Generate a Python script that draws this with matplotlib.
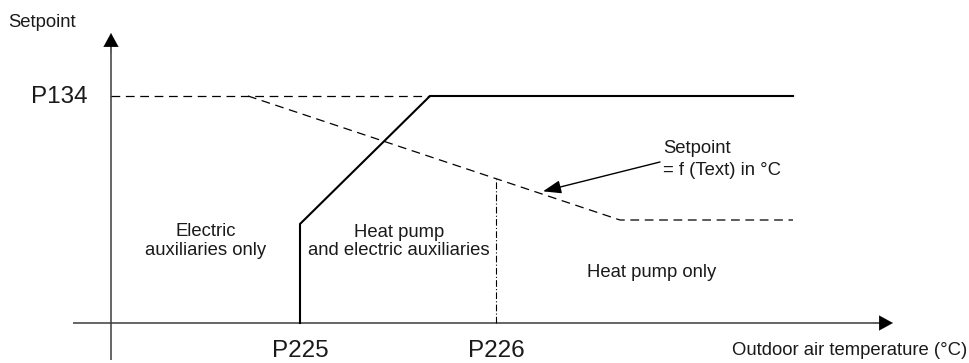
import matplotlib
matplotlib.use("Agg")
import matplotlib.pyplot as plt
import numpy as np

plt.rcParams['font.family'] = ['Liberation Sans', 'DejaVu Sans']

# schematic units: origin where the two axes cross
p134 = 227          # max setpoint level
p225 = 189          # heat pump cut-off temperature
p226 = 385          # changeover temperature

# setpoint law = f(Text), dashed
law_x = [137, 509, 682]
law_y = [227, 103, 103]

# heat pump operating limit, solid
limit_x = [p225, p225, 319, 682]
limit_y = [0, 99, p134, p134]

tick_labels = ["P225", "P226"]
tick_pos = [p225, p226]

fig = plt.figure(figsize=(9.7, 3.63), dpi=100)
ax = fig.add_axes([0, 0, 1, 1])
ax.set_xlim(-111, 859)
ax.set_ylim(-40, 323)
ax.axis("off")

axis_col = "#3c3c3c"
txt_col = "#1a1a1a"
small = 13.3
big = 17.5

# axes with arrow heads
ax.plot([0, 0], [-37, 280], color=axis_col, lw=1.1, solid_capstyle="butt")
ax.plot([-38, 772], [0, 0], color=axis_col, lw=1.1, solid_capstyle="butt")
head = dict(arrowstyle="-|>,head_length=0.55,head_width=0.3", color="black",
            mutation_scale=18, shrinkA=0, shrinkB=0, lw=0.1)
ax.annotate("", xy=(0, 290), xytext=(0, 270), arrowprops=head)
ax.annotate("", xy=(782, 0), xytext=(762, 0), arrowprops=head)

# P134 reference level up to where the limit line reaches it
ax.plot([0, limit_x[2]], [p134, p134], color="black", lw=0.9, ls=(0, (7, 4.5)))
# setpoint law
ax.plot(law_x, law_y, color="black", lw=0.9, ls=(0, (7, 4.5)))
# heat pump limit
ax.plot(limit_x, limit_y, color="black", lw=1.5, solid_joinstyle="miter")

# P226 marker down to the axis
y226 = np.interp(p226, law_x, law_y)
ax.plot([p226, p226], [0, y226], color="black", lw=0.8, ls=(0, (6, 2, 1, 2)))

# annotation arrow to the setpoint law
ax_tip = 432
ax.annotate("", xy=(ax_tip, np.interp(ax_tip, law_x, law_y) + 3), xytext=(549, 161),
            arrowprops=dict(arrowstyle="-|>,head_length=1.1,head_width=0.4",
                            mutation_scale=10, color="black", lw=1.0,
                            shrinkA=0, shrinkB=0))
ax.text(552, 170, "Setpoint", fontsize=small, color=txt_col, va="baseline")
ax.text(552, 148, "= f (Text) in °C", fontsize=small, color=txt_col, va="baseline")

# labels
ax.text(-103, 296, "Setpoint", fontsize=small, color=txt_col, va="baseline")
ax.text(-23, 220, "P134", fontsize=big, color=txt_col, ha="right", va="baseline")
for pos, lab in zip(tick_pos, tick_labels):
    ax.text(pos, -34, lab, fontsize=big, color=txt_col, ha="center", va="baseline")
ax.text(621, -32, "Outdoor air temperature (°C)", fontsize=small, color=txt_col,
        va="baseline")

ax.text(95, 87, "Electric", fontsize=small, color=txt_col, ha="center", va="baseline")
ax.text(95, 68, "auxiliaries only", fontsize=small, color=txt_col, ha="center", va="baseline")
ax.text(288, 86, "Heat pump", fontsize=small, color=txt_col, ha="center", va="baseline")
ax.text(288, 68, "and electric auxiliaries", fontsize=small, color=txt_col, ha="center",
        va="baseline")
ax.text(541, 46, "Heat pump only", fontsize=small, color=txt_col, ha="center", va="baseline")

fig.savefig("out.png", dpi=100)
